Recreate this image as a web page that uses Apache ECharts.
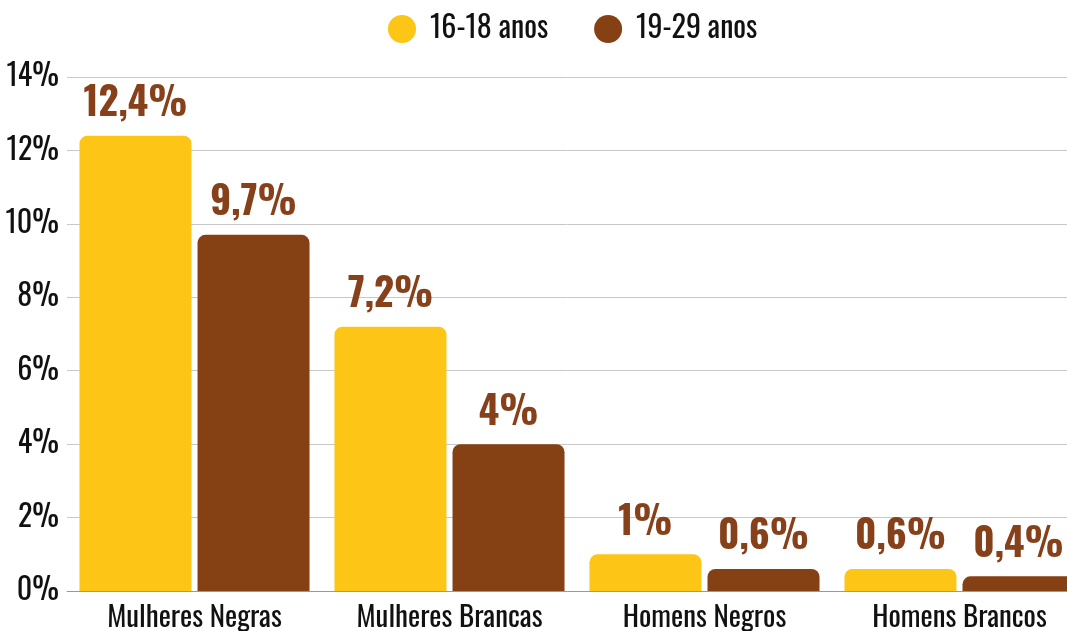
<!DOCTYPE html>
<html>
<head>
<meta charset="utf-8">
<title>ECharts</title>
<script src="https://cdn.jsdelivr.net/npm/echarts@6/dist/echarts.min.js"></script>
<style>
  html, body { margin: 0; padding: 0; background: #fff; }
</style>
</head>
<body>
<div id="main" style="width: 1067px;height:631px;"></div>
<script type="text/javascript">
// dados
var categorias = ['Mulheres Negras', 'Mulheres Brancas', 'Homens Negros', 'Homens Brancos'];
var jovens = [12.4, 7.2, 1, 0.6];      // 16-18 anos
var adultos = [9.7, 4, 0.6, 0.4];      // 19-29 anos
var nomes = ['16-18 anos', '19-29 anos'];

var fonte = "'Oswald', 'Roboto Condensed', 'Liberation Sans Narrow', 'DejaVu Sans Condensed', sans-serif";
var amarelo = '#FDC515';
var marrom = '#854013';

var myChart = echarts.init(document.getElementById('main'));

function rotulo(v) {
  return String(v.value).replace('.', ',') + '%';
}

var option = {
  animation: false,
  textStyle: { fontFamily: fonte },
  legend: {
    top: 9,
    left: 383,
    icon: 'circle',
    itemWidth: 28,
    itemHeight: 28,
    itemGap: 46,
    textStyle: { fontSize: 30, color: '#111', fontFamily: fonte, padding: [0, 0, 0, 9] },
    data: nomes
  },
  // o gráfico original corta a última barra na borda direita
  grid: { left: 67, width: 1020, top: 77, bottom: 40, outerBoundsMode: 'none', containLabel: false },
  xAxis: {
    type: 'category',
    data: categorias,
    axisTick: { show: false },
    axisLine: { lineStyle: { color: '#999' } },
    axisLabel: { fontSize: 29, color: '#111', margin: 13, fontFamily: fonte }
  },
  yAxis: {
    type: 'value',
    min: 0,
    max: 14,
    interval: 2,
    axisLabel: { formatter: '{value}%', fontSize: 30, color: '#111', margin: 8, fontFamily: fonte },
    splitLine: { lineStyle: { color: '#c8c8c8' } },
    axisLine: { show: false },
    axisTick: { show: false }
  },
  series: [{
    name: nomes[0],
    type: 'bar',
    data: jovens,
    barWidth: 112,
    barGap: '5.4%',
    barCategoryGap: '10%',
    itemStyle: { color: amarelo, borderRadius: [8, 8, 0, 0] },
    label: { show: true, position: 'top', distance: 12, formatter: rotulo, fontSize: 39, fontWeight: 'bold', color: '#87411a', fontFamily: fonte }
  }, {
    name: nomes[1],
    type: 'bar',
    data: adultos,
    barWidth: 112,
    itemStyle: { color: marrom, borderRadius: [8, 8, 0, 0] },
    label: { show: true, position: 'top', distance: 12, formatter: rotulo, fontSize: 39, fontWeight: 'bold', color: '#87411a', fontFamily: fonte }
  }]
};

myChart.setOption(option);
</script>
</body>
</html>
